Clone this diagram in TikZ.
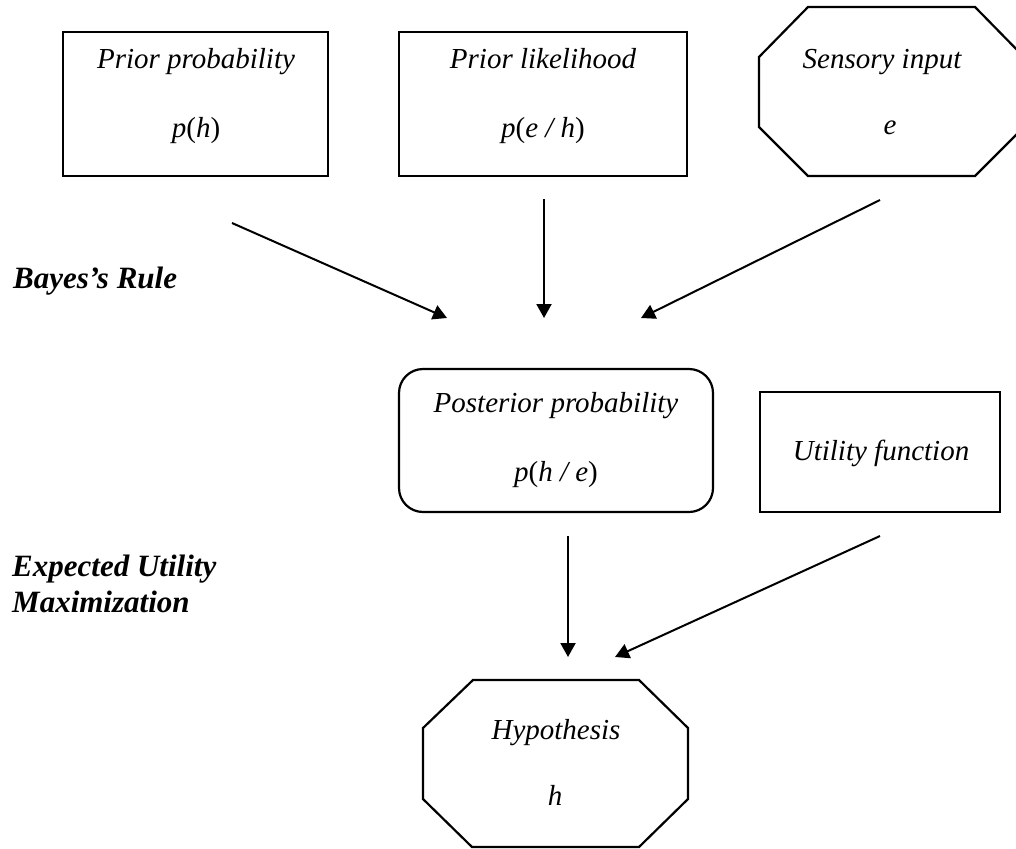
\documentclass[tikz,border=0pt]{standalone}
\usepackage{fontspec}
\setmainfont{Liberation Serif}
\usetikzlibrary{arrows.meta}
\begin{document}
\begin{tikzpicture}[x=1pt,y=-1pt,
  box/.style={draw, line width=2.2pt, inner sep=0pt},
  shapeline/.style={draw, line width=2.2pt, line join=miter},
  txt/.style={font=\fontsize{29}{34}\selectfont\itshape, inner sep=0pt, anchor=base},
  lab/.style={font=\fontsize{31}{36}\selectfont\bfseries\itshape, inner sep=0pt, anchor=base west},
  arr/.style={-{Triangle[length=14pt,width=15pt]}, line width=2pt}]
\useasboundingbox (0,0) rectangle (1016,848);
\clip (0,0) rectangle (1016,848);
\fill[white] (0,0) rectangle (1016,848);

% top row
\node[box, minimum width=265pt, minimum height=144pt] (prior) at (195.5,104) {};
\node[txt] (priorT) at (196,69) {Prior probability};
\node[txt] (priorF) at (196,137) {\textit{p}\textup{(}\textit{h}\textup{)}};

\node[box, minimum width=288pt, minimum height=144pt] (lik) at (543,104) {};
\node[txt] (likT) at (543,69) {Prior likelihood};
\node[txt] (likF) at (543,137) {\textit{p}\textup{(}\textit{e} / \textit{h}\textup{)}};

\draw[shapeline] (808,7) -- (975,7) -- (1024,57) -- (1024,127) -- (975,176) -- (808,176) -- (759,127) -- (759,57) -- cycle;
\node[txt] (sensT) at (882,69) {Sensory input};
\node[txt] (sensF) at (890,135) {e};

% middle row
\node[box, rounded corners=24pt, minimum width=314pt, minimum height=143pt] (post) at (556,440.5) {};
\node[txt] (postT) at (556,412) {Posterior probability};
\node[txt] (postF) at (556,481) {\textit{p}\textup{(}\textit{h} / \textit{e}\textup{)}};

\node[box, minimum width=240pt, minimum height=120pt] (util) at (880,452) {};
\node[txt] (utilT) at (881,460) {Utility function};

% bottom
\draw[shapeline] (473,680) -- (639,680) -- (688,728) -- (688,799) -- (639,847) -- (472,847) -- (423,799) -- (423,728) -- cycle;
\node[txt] (hypT) at (556,739) {Hypothesis};
\node[txt] (hypF) at (555,805) {h};

% side labels
\node[lab] (bayes) at (13,288) {Bayes's Rule};
\node[lab] (eum1) at (12,576) {Expected Utility};
\node[lab] (eum2) at (12,612) {Maximization};

% connectors
\coordinate (a1s) at (232,223); \coordinate (a1e) at (447,318);
\coordinate (a2s) at (544,199); \coordinate (a2e) at (544,318);
\coordinate (a3s) at (880,200); \coordinate (a3e) at (641,318);
\coordinate (a4s) at (568,536); \coordinate (a4e) at (568,657);
\coordinate (a5s) at (880,536); \coordinate (a5e) at (615,657);
\draw[arr] (a1s) -- (a1e);
\draw[arr] (a2s) -- (a2e);
\draw[arr] (a3s) -- (a3e);
\draw[arr] (a4s) -- (a4e);
\draw[arr] (a5s) -- (a5e);
\end{tikzpicture}
\end{document}
